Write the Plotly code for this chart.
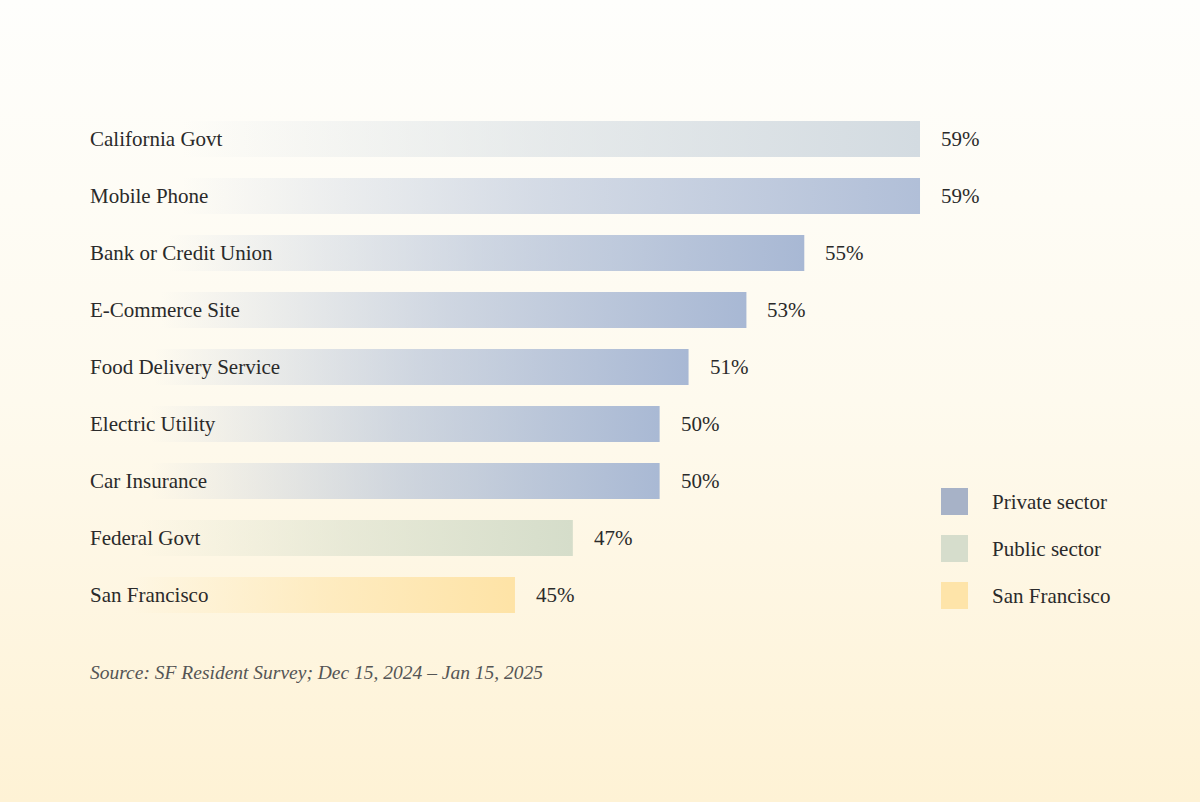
import plotly.graph_objects as go

categories = ["California Govt", "Mobile Phone", "Bank or Credit Union", "E-Commerce Site",
              "Food Delivery Service", "Electric Utility", "Car Insurance", "Federal Govt",
              "San Francisco"]
values = [59, 59, 55, 53, 51, 50, 50, 47, 45]
groups = ["Public sector", "Private sector", "Private sector", "Private sector", "Private sector",
          "Private sector", "Private sector", "Public sector", "San Francisco"]
value_labels = [f"{v}%" for v in values]
legend_labels = ["Private sector", "Public sector", "San Francisco"]
source_text = "Source: SF Resident Survey; Dec 15, 2024 – Jan 15, 2025"

# end colors for each bar's gradient
bar_end_colors = ["#d3dbe1", "#b1bfd8", "#a8b8d4", "#a8b8d4", "#a8b8d4",
                  "#a9b9d4", "#a9b9d4", "#d5ddca", "#fee3a6"]
legend_colors = {"Private sector": "#a7b2c7", "Public sector": "#d6ddcc", "San Francisco": "#fee4a9"}

FONT = "Liberation Serif, DejaVu Serif, serif"
TEXT = "#2a2a2a"
AX_MIN, AX_MAX = 30, 65
BAR_HALF = 0.315

def rgba(hexc, a):
    h = hexc.lstrip("#")
    r, g, b = int(h[0:2], 16), int(h[2:4], 16), int(h[4:6], 16)
    return f"rgba({r},{g},{b},{a})"

fig = go.Figure()

# background gradient (paper) on its own full-size axes
fig.add_trace(go.Scatter(
    x=[0, 1, 1, 0, 0], y=[0, 0, 1, 1, 0], mode="lines", fill="toself",
    line=dict(width=0), hoverinfo="skip", showlegend=False,
    fillgradient=dict(type="vertical",
                      colorscale=[[0, "#fef2d5"], [0.5, "#fefaee"], [1, "#fefefc"]]),
    xaxis="x", yaxis="y"))

# bars as gradient-filled polygons
for i, (cat, v, col) in enumerate(zip(categories, values, bar_end_colors)):
    y0, y1 = i - BAR_HALF, i + BAR_HALF
    fig.add_trace(go.Scatter(
        x=[AX_MIN, v, v, AX_MIN, AX_MIN], y=[y0, y0, y1, y1, y0],
        mode="lines", fill="toself", line=dict(width=0), showlegend=False,
        name=cat, hovertemplate=f"{cat}: {v}%<extra></extra>",
        fillgradient=dict(type="horizontal",
                          colorscale=[[0, rgba(col, 0)], [0.12, rgba(col, 0.0)],
                                      [0.55, rgba(col, 0.55)], [1, rgba(col, 1)]]),
        xaxis="x2", yaxis="y2"))

annotations = []
for i, (cat, v, lab) in enumerate(zip(categories, values, value_labels)):
    annotations.append(dict(x=AX_MIN, y=i, xref="x2", yref="y2", text=cat, showarrow=False,
                            xanchor="left", yanchor="middle", xshift=7,
                            font=dict(family=FONT, size=21, color=TEXT)))
    annotations.append(dict(x=v, y=i, xref="x2", yref="y2", text=lab, showarrow=False,
                            xanchor="left", yanchor="middle", xshift=19,
                            font=dict(family=FONT, size=21, color=TEXT)))

# manual legend
shapes = []
leg_top = 488
for k, lab in enumerate(legend_labels):
    top = leg_top + k * 47
    shapes.append(dict(type="rect", xref="paper", yref="paper",
                       x0=941 / 1200, x1=968 / 1200,
                       y0=1 - (top + 27) / 802, y1=1 - top / 802,
                       fillcolor=legend_colors[lab], line=dict(width=0), layer="above"))
    annotations.append(dict(x=990 / 1200, y=1 - (top + 14) / 802, xref="paper", yref="paper",
                            text=lab, showarrow=False, xanchor="left", yanchor="middle",
                            font=dict(family=FONT, size=21, color=TEXT)))

annotations.append(dict(x=88 / 1200, y=1 - 672 / 802, xref="paper", yref="paper",
                        text=f"<i>{source_text}</i>", showarrow=False, xanchor="left",
                        yanchor="middle", font=dict(family=FONT, size=19.5, color="#555555")))

fig.update_layout(
    width=1200, height=802, margin=dict(l=0, r=0, t=0, b=0),
    paper_bgcolor="#fefcf5", plot_bgcolor="rgba(0,0,0,0)",
    xaxis=dict(domain=[0, 1], range=[0, 1], visible=False, fixedrange=True),
    yaxis=dict(domain=[0, 1], range=[0, 1], visible=False, fixedrange=True),
    xaxis2=dict(domain=[81 / 1200, 1093.6 / 1200], range=[AX_MIN, AX_MAX], visible=False,
                anchor="y2"),
    yaxis2=dict(domain=[1 - 623.5 / 802, 1 - 110.5 / 802], range=[8.5, -0.5], visible=False,
                anchor="x2"),
    shapes=shapes, annotations=annotations, showlegend=False,
)

fig.write_html("out.html", config={"displayModeBar": False},
               post_script="document.body.style.margin='0';document.body.style.overflow='hidden';")
